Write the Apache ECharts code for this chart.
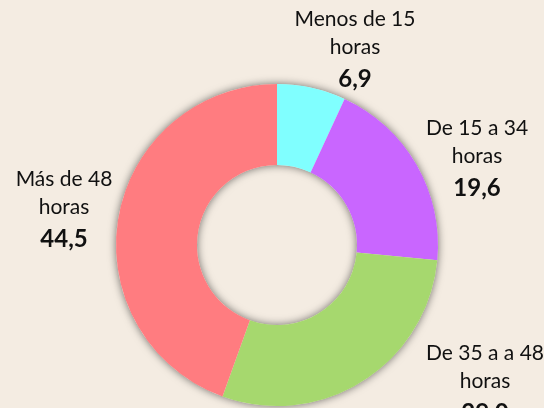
<!DOCTYPE html>
<html>
<head>
<meta charset="utf-8">
<script src="https://cdn.jsdelivr.net/npm/echarts@6/dist/echarts.min.js"></script>
<style>
  html, body { margin: 0; padding: 0; background: #F4ECE2; }
  #chart { width: 544px; height: 408px; }
</style>
</head>
<body>
<div id="chart"></div>
<script>
// horas trabajadas a la semana (%)
var categorias = ['Menos de 15\nhoras', 'De 15 a 34\nhoras', 'De 35 a a 48\nhoras', 'Más de 48\nhoras'];
var valores = [6.9, 19.6, 29.0, 44.5];
var colores = ['#80FFFF', '#C966FF', '#A6D86E', '#FF7C80'];

// centro de cada etiqueta (x, y)
var labelPos = [[355, 51], [477, 160], [485, 385], [64, 211]];

function fmtNum(v) {
    return v.toFixed(1).replace('.', ',');
}

var chart = echarts.init(document.getElementById('chart'));

var data = [];
for (var i = 0; i < valores.length; i++) {
    data.push({
        name: categorias[i],
        value: valores[i],
        itemStyle: { color: colores[i] }
    });
}

var op = {
    backgroundColor: '#F4ECE2',
    animation: false,
    series: [
        {
            // anillo de fondo solo para la sombra
            type: 'pie',
            silent: true,
            center: [277, 245],
            radius: [80, 161],
            data: [{ value: 1, itemStyle: { color: '#F4ECE2' } }],
            itemStyle: {
                shadowBlur: 8,
                shadowColor: 'rgba(0,0,0,0.55)'
            },
            label: { show: false },
            labelLine: { show: false }
        },
        {
            type: 'pie',
            center: [277, 245],
            radius: [80, 161],
            startAngle: 90,
            clockwise: true,
            data: data,
            label: {
                show: true,
                position: 'outside',
                overflow: 'none',
                width: 200,
                color: '#111',
                fontFamily: 'Lato, "Open Sans", sans-serif',
                formatter: function (p) {
                    var lines = p.name.split('\n');
                    var s = '';
                    for (var k = 0; k < lines.length; k++) {
                        s += '{n|' + lines[k] + '}\n';
                    }
                    return s + '{v|' + fmtNum(p.value) + '}';
                },
                rich: {
                    n: { fontSize: 21, lineHeight: 28, color: '#111', fontFamily: 'Lato, sans-serif', align: 'center' },
                    v: { fontSize: 24, lineHeight: 36, fontWeight: 'bold', color: '#111', fontFamily: 'Lato, sans-serif', align: 'center' }
                }
            },
            labelLine: { show: false },
            labelLayout: function (params) {
                var pos = labelPos[params.dataIndex];
                return {
                    x: pos[0],
                    y: pos[1],
                    align: 'center',
                    verticalAlign: 'middle'
                };
            }
        }
    ]
};
chart.setOption(op);
</script>
</body>
</html>
